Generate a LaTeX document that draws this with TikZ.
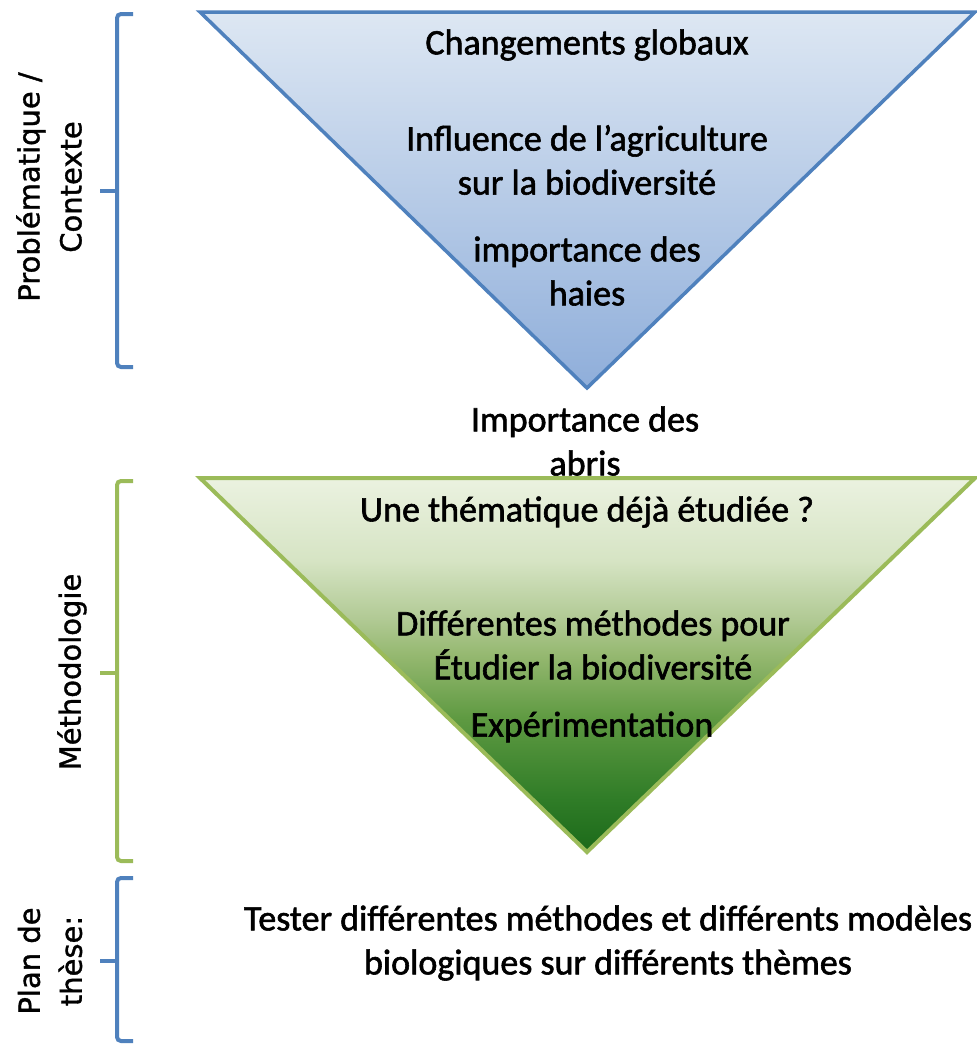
\documentclass[tikz,border=0pt]{standalone}
\usepackage{fontspec}
\newfontfamily\calib[FakeBold=1.6]{Carlito}
\newfontfamily\verd[FakeBold=1.2]{DejaVu Sans}
\definecolor{blueline}{HTML}{4F81BD}
\definecolor{greenline}{HTML}{9BBB59}
\definecolor{bluetop}{HTML}{DDE7F3}
\definecolor{bluebot}{HTML}{8FAEDA}
\definecolor{gA}{HTML}{1C6A1A}
\definecolor{gB}{HTML}{2F7C27}
\definecolor{gC}{HTML}{5F9A42}
\definecolor{gD}{HTML}{93B76E}
\definecolor{gE}{HTML}{B0C993}
\definecolor{gF}{HTML}{D6E4C4}
\definecolor{gG}{HTML}{EBF2E0}
\pgfdeclareverticalshading{greenshade}{100bp}{color(0bp)=(gA); color(25bp)=(gA); color(32bp)=(gB); color(43bp)=(gC); color(51bp)=(gD); color(56bp)=(gE); color(64bp)=(gF); color(75bp)=(gG); color(100bp)=(gG)}
\begin{document}
\begin{tikzpicture}[x=1pt,y=-1pt,
  maintext/.style={font=\calib\fontsize{36}{44}\selectfont, align=center, inner sep=0pt, text=black},
  sidetext/.style={font=\verd\fontsize{29}{42}\selectfont, align=center, inner sep=0pt, rotate=90, text=black},
  bluebr/.style={draw=blueline, line width=4pt, rounded corners=4pt},
  greenbr/.style={draw=greenline, line width=4pt, rounded corners=4pt}]
\useasboundingbox (0,0) rectangle (977,1044);
\fill[white] (0,0) rectangle (977,1044);

% blue triangle
\coordinate (bA) at (200,12);
\coordinate (bB) at (975,12);
\coordinate (bC) at (587,388);
\shade[top color=bluetop, bottom color=bluebot] (bA) -- (bB) -- (bC) -- cycle;
\draw[blueline, line width=3.5pt, line join=miter] (bA) -- (bB) -- (bC) -- cycle;

% label between triangles
\node[maintext] (t4) at (585,441) {Importance des\\abris};

% green triangle
\coordinate (gA) at (200,478);
\coordinate (gB) at (975,478);
\coordinate (gC) at (587,852);
\shade[shading=greenshade] (gA) -- (gB) -- (gC) -- cycle;
\draw[greenline, line width=4pt, line join=miter] (gA) -- (gB) -- (gC) -- cycle;

% brackets
\draw[bluebr] (133,14) -- (117,14) -- (117,367) -- (133,367);
\draw[bluebr, rounded corners=0pt] (100,191) -- (117,191);
\draw[greenbr] (133,481) -- (117,481) -- (117,861) -- (133,861);
\draw[greenbr, rounded corners=0pt] (100,673) -- (117,673);
\draw[bluebr] (133,878) -- (117,878) -- (117,1041) -- (133,1041);
\draw[bluebr, rounded corners=0pt] (100,961) -- (117,961);

% side labels
\node[sidetext] (s1) at (49,187) {Problématique /\\Contexte};
\node[sidetext] (s2) at (72,672) {Méthodologie};
\node[sidetext] (s3) at (50,961) {Plan de\\thèse:};

% texts
\node[maintext] (t1) at (587,45) {Changements globaux};
\node[maintext] (t2) at (587,160) {Influence de l’agriculture\\sur la biodiversité};
\node[maintext] (t3) at (587,271) {importance des\\haies};
\node[maintext] (g1) at (587,512) {Une thématique déjà étudiée ?};
\node[maintext] (g2) at (593,645) {Différentes méthodes pour\\Étudier la biodiversité};
\node[maintext] (g3) at (592,727) {Expérimentation};
\node[maintext] (b1) at (608,943) {Tester différentes méthodes et différents modèles\\biologiques sur différents thèmes};
\end{tikzpicture}
\end{document}
